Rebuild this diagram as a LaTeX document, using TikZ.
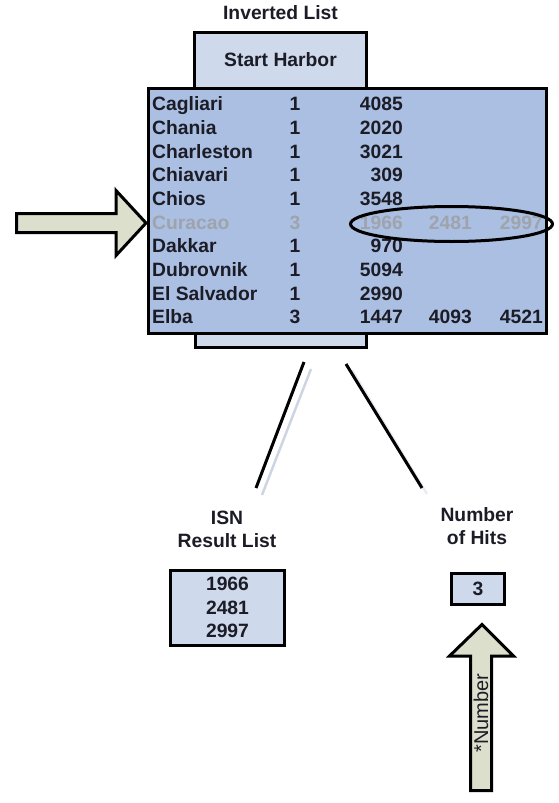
\documentclass[tikz,border=0pt]{standalone}
\usepackage{fontspec}
\setmainfont{Liberation Sans}
\usetikzlibrary{shapes.geometric}

\definecolor{boxblue}{RGB}{170,191,226}
\definecolor{paleblue}{RGB}{207,217,236}
\definecolor{khaki}{RGB}{221,223,205}
\definecolor{inkdark}{RGB}{28,28,38}
\definecolor{dimgray}{RGB}{158,163,172}
\definecolor{shadowline}{RGB}{205,213,226}

\tikzset{
  frame/.style={draw=black, line width=3pt, inner sep=0pt},
  label/.style={font=\fontsize{19.3pt}{23pt}\selectfont\bfseries, text=inkdark, inner sep=0pt},
  cell/.style={label, anchor=base west},
  num/.style={label, anchor=base east},
  mid/.style={label, anchor=base},
  faded/.style={text=dimgray},
  blockarrow/.style={draw=black, fill=khaki, line width=3pt, line join=miter},
  link/.style={draw=black, line width=3pt},
  linkshade/.style={draw=shadowline, line width=2.5pt},
}

\begin{document}
\begin{tikzpicture}[x=1pt,y=-1pt]
  \useasboundingbox (0,0) rectangle (558,803);

  % title and the heading tab
  \node[label] (title) at (280.5,13) {Inverted List};
  \node[frame, fill=paleblue, minimum width=172pt, minimum height=56pt] (harbor) at (280.5,60.5) {};
  \node[label] at (280.5,59.5) {Start Harbor};

  % lower tab, then the list body on top of both tabs
  \node[frame, fill=paleblue, minimum width=171pt, minimum height=28pt] (tab) at (281,333.5) {};
  \node[frame, fill=boxblue, minimum width=398pt, minimum height=245pt] (list) at (347.5,211) {};

  % list rows: harbour, count, postings
  \foreach \r/\nm/\ct/\n in {0/Cagliari/1/4085, 1/Chania/1/2020, 2/Charleston/1/3021,
      3/Chiavari/1/309, 4/Chios/1/3548, 6/Dakkar/1/970, 7/Dubrovnik/1/5094,
      8/El Salvador/1/2990, 9/Elba/3/1447} {
    \node[cell] (name\r) at (152,{110.9+23.67*\r}) {\nm};
    \node[mid] (count\r) at (295,{110.9+23.67*\r}) {\ct};
    \node[num] (post\r) at (403,{110.9+23.67*\r}) {\n};
  }
  \node[num] (elbaB) at (472,{110.9+23.67*9}) {4093};
  \node[num] (elbaC) at (543,{110.9+23.67*9}) {4521};

  % the selected row
  \node[cell, faded] (name5) at (152,{110.9+23.67*5}) {Curacao};
  \node[mid, faded] (count5) at (295,{110.9+23.67*5}) {3};
  \node[num, faded] (post5) at (403,{110.9+23.67*5}) {1966};
  \node[num, faded] (curB) at (472,{110.9+23.67*5}) {2481};
  \node[num, faded] (curC) at (543,{110.9+23.67*5}) {2997};
  \node[ellipse, draw=black, line width=3pt, inner sep=0pt,
        minimum width=202pt, minimum height=35pt] (sel) at (451.5,224) {};

  % pointer to the selected row
  \draw[blockarrow] (16.5,213.5) -- (116,213.5) -- (116,190.5) -- (146,223)
        -- (116,255.5) -- (116,232.5) -- (16.5,232.5) -- cycle;

  % results
  \node[label] (isn) at (227,518) {ISN};
  \node[label] (rlist) at (227,541) {Result List};
  \node[frame, fill=paleblue, minimum width=114pt, minimum height=75pt] (result) at (227.5,608) {};
  \node[mid] (r1) at (227.5,590.9) {1966};
  \node[mid] (r2) at (227.5,614.9) {2481};
  \node[mid] (r3) at (227.5,637.9) {2997};

  \node[label] (hitsA) at (477,515) {Number};
  \node[label] (hitsB) at (477,538) {of Hits};
  \node[frame, fill=paleblue, minimum width=53pt, minimum height=31pt] (hits) at (478,589) {};
  \node[label] at (478,589) {3};

  % links from the list to the two results
  \coordinate (la) at (304,362);
  \coordinate (lb) at (256,488);
  \coordinate (las) at (311,369);
  \coordinate (lbs) at (262,495);
  \coordinate (ra) at (346,364);
  \coordinate (rb) at (422,488);
  \coordinate (ras) at (352,370);
  \coordinate (rbs) at (427,494);
  \draw[linkshade] (las) -- (lbs);
  \draw[linkshade, draw=shadowline!45] (ras) -- (rbs);
  \draw[link] (la) -- (lb);
  \draw[link] (ra) -- (rb);

  % input arrow under the hit count
  \draw[blockarrow] (470.5,790.5) -- (470.5,656) -- (449.5,656) -- (482,624.5)
        -- (513.5,656) -- (491.5,656) -- (491.5,790.5) -- cycle;
  \node[font=\fontsize{20pt}{24pt}\selectfont, text=inkdark, inner sep=0pt, rotate=90]
        (numlabel) at (481,713) {*Number};
\end{tikzpicture}
\end{document}
